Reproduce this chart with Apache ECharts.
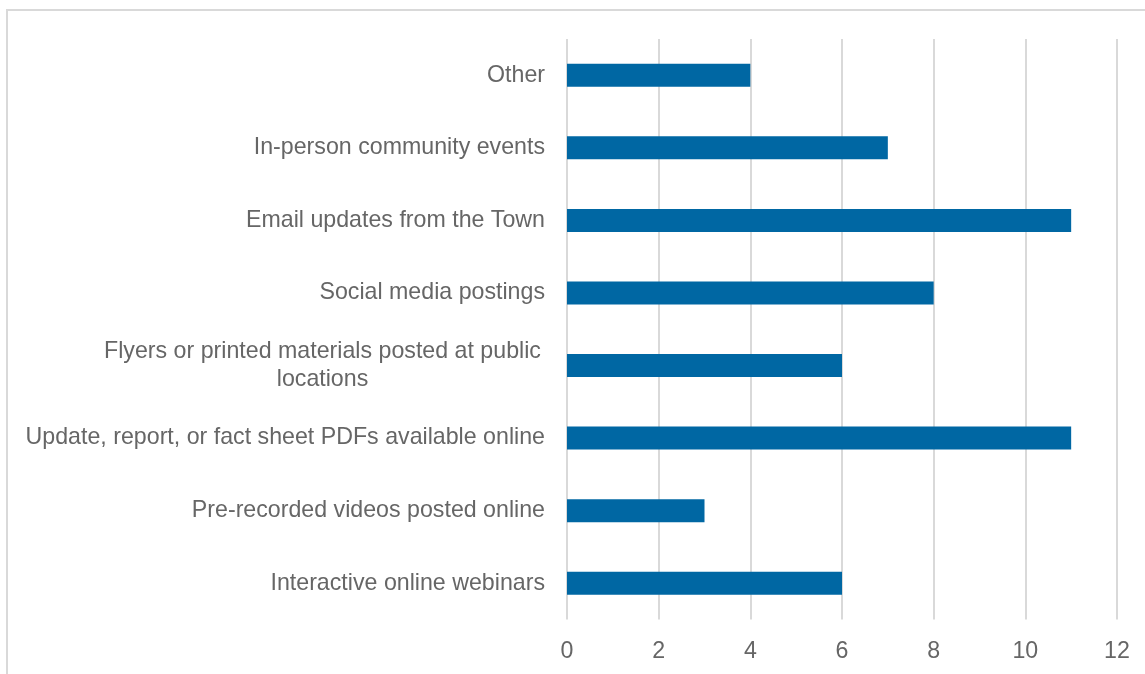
<!DOCTYPE html>
<html>
<head>
<meta charset="utf-8">
<script src="https://cdn.jsdelivr.net/npm/echarts@6/dist/echarts.min.js"></script>
<style>
html,body{margin:0;padding:0;background:#fff;}
#chart{width:1145px;height:674px;}
</style>
</head>
<body>
<div id="chart"></div>
<script>
const categories = [
  "Other",
  "In-person community events",
  "Email updates from the Town",
  "Social media postings",
  "Flyers or printed materials posted at public\nlocations",
  "Update, report, or fact sheet PDFs available online",
  "Pre-recorded videos posted online",
  "Interactive online webinars"
];
const values = [4, 7, 11, 8, 6, 11, 3, 6];
const xTicks = { min: 0, max: 12, interval: 2 };

const FONT = "Liberation Sans";
const TEXT_COLOR = "#666666";
const FS = 23.2;

const chart = echarts.init(document.getElementById('chart'), null, { renderer: 'canvas' });
chart.setOption({
  animation: false,
  backgroundColor: '#fff',
  graphic: [{
    type: 'rect',
    shape: { x: 7, y: 10, width: 1300, height: 1000 },
    style: { fill: 'none', stroke: '#d9d9d9', lineWidth: 2 },
    silent: true
  }],
  grid: { left: 567, right: 28, top: 39, bottom: 54.5, containLabel: false },
  xAxis: {
    type: 'value',
    min: xTicks.min, max: xTicks.max, interval: xTicks.interval,
    axisLine: { show: false },
    axisTick: { show: false },
    splitLine: { show: true, lineStyle: { color: '#d9d9d9', width: 2 } },
    axisLabel: { color: TEXT_COLOR, fontSize: FS, fontFamily: FONT, margin: 21 }
  },
  yAxis: {
    type: 'category',
    inverse: true,
    data: categories,
    axisLine: { show: false },
    axisTick: { show: false },
    splitLine: { show: false },
    axisLabel: {
      color: TEXT_COLOR, fontSize: FS, fontFamily: FONT, margin: 22,
      lineHeight: 28,
      formatter: function (v) {
        if (v.indexOf('\n') >= 0) {
          return v.split('\n').map(s => '{c|' + s + '}').join('\n');
        }
        return v;
      },
      rich: {
        c: { color: TEXT_COLOR, fontSize: FS, fontFamily: FONT, lineHeight: 28, width: 445, align: 'center' }
      }
    }
  },
  series: [{
    type: 'bar',
    data: values,
    barWidth: 23,
    itemStyle: { color: '#0067a3' }
  }]
});
</script>
</body>
</html>
